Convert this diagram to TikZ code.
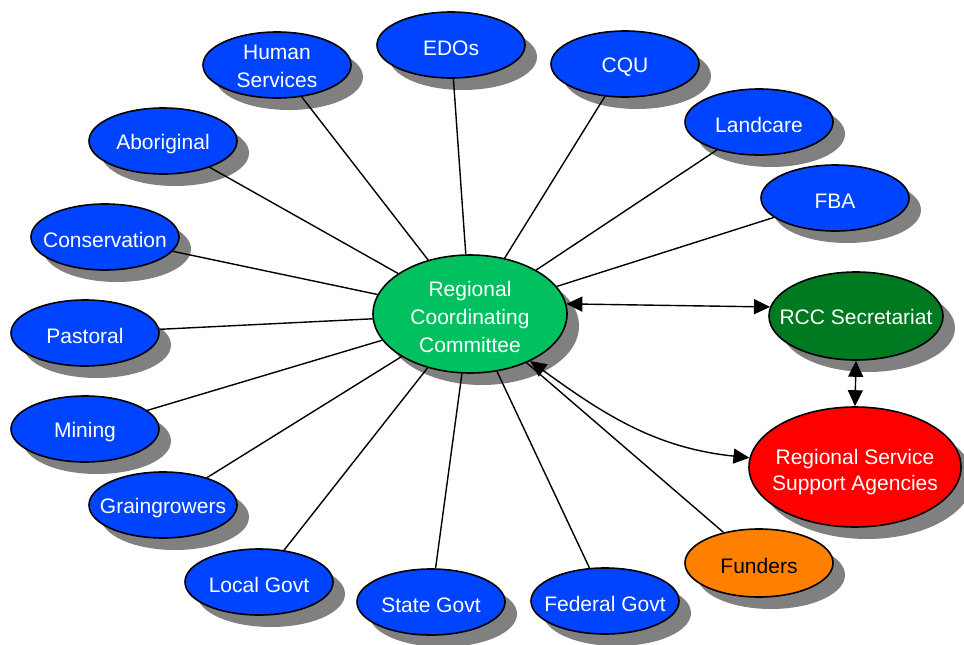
\documentclass[tikz,border=0pt]{standalone}
\usepackage{fontspec}
\setmainfont{Liberation Sans}
\usetikzlibrary{shapes.geometric,shadows,arrows.meta}
\definecolor{nodeblue}{RGB}{0,68,255}
\definecolor{rccgreen}{RGB}{0,192,96}
\definecolor{secgreen}{RGB}{0,122,32}
\definecolor{rssared}{RGB}{255,0,0}
\definecolor{fundorange}{RGB}{255,128,0}
\definecolor{shadowgray}{RGB}{128,128,128}
\tikzset{
  lbl/.style={inner sep=0pt, align=center, font=\fontsize{21}{28}\selectfont, text=white, yshift=-3pt},
  basenode/.style={ellipse, draw=black, line width=1.6pt, inner sep=0pt,
    drop shadow={shadow xshift=12pt, shadow yshift=-12pt, fill=shadowgray, opacity=1}},
  bluenode/.style={basenode, fill=nodeblue, minimum width=148pt, minimum height=66pt},
  link/.style={line width=1.4pt, draw=black},
  twoway/.style={line width=1.4pt, draw=black,
    {Triangle[length=16pt,width=15pt]}-{Triangle[length=16pt,width=15pt]}}
}
\begin{document}
\begin{tikzpicture}[x=1pt,y=-1pt]
\useasboundingbox[fill=white] (0,0) rectangle (964,645);
% central node and partners
\node[basenode, fill=rccgreen, minimum width=194pt, minimum height=118pt,
  label={[lbl]center:Regional\\Coordinating\\Committee}] (rcc) at (470,314) {};
\node[basenode, fill=secgreen, minimum width=174pt, minimum height=88pt,
  label={[lbl, yshift=2pt]center:RCC Secretariat}] (sec) at (856,316) {};
\node[basenode, fill=rssared, minimum width=212pt, minimum height=120pt,
  label={[lbl, font=\fontsize{21}{26}\selectfont, yshift=-2pt]center:Regional Service\\Support Agencies}] (rssa) at (855,467) {};
\node[basenode, fill=fundorange, minimum width=148pt, minimum height=68pt,
  label={[lbl, text=black]center:Funders}] (fund) at (759,563) {};
% stakeholder nodes
\node[bluenode, label={[lbl, yshift=2pt]center:Human\\Services}] (hs) at (277,65) {};
\node[bluenode, label={[lbl]center:EDOs}] (edos) at (451,45) {};
\node[bluenode, label={[lbl]center:CQU}] (cqu) at (625,64) {};
\node[bluenode, label={[lbl]center:Landcare}] (land) at (759,122) {};
\node[bluenode, label={[lbl]center:FBA}] (fba) at (835,198) {};
\node[bluenode, label={[lbl]center:Aboriginal}] (abor) at (163,141) {};
\node[bluenode, label={[lbl]center:Conservation}] (cons) at (105,237) {};
\node[bluenode, label={[lbl]center:Pastoral}] (past) at (85,333) {};
\node[bluenode, label={[lbl]center:Mining}] (mine) at (85,429) {};
\node[bluenode, label={[lbl]center:Graingrowers}] (grain) at (163,505) {};
\node[bluenode, label={[lbl]center:Local Govt}] (local) at (259,582) {};
\node[bluenode, label={[lbl]center:State Govt}] (state) at (431,602) {};
\node[bluenode, label={[lbl]center:Federal Govt}] (fed) at (605,601) {};
% spokes
\foreach \n in {hs,edos,cqu,land,fba,abor,cons,past,mine,grain,local,state,fed,fund}
  \draw[link] (\n) -- (rcc);
% two-way arrows
\draw[twoway] (rcc.6) -- (sec.174);
\draw[twoway] (rcc.-38) to[out=-36,in=174] (rssa.175);
\draw[twoway] (sec.south) -- (rssa.north);
\end{tikzpicture}
\end{document}
